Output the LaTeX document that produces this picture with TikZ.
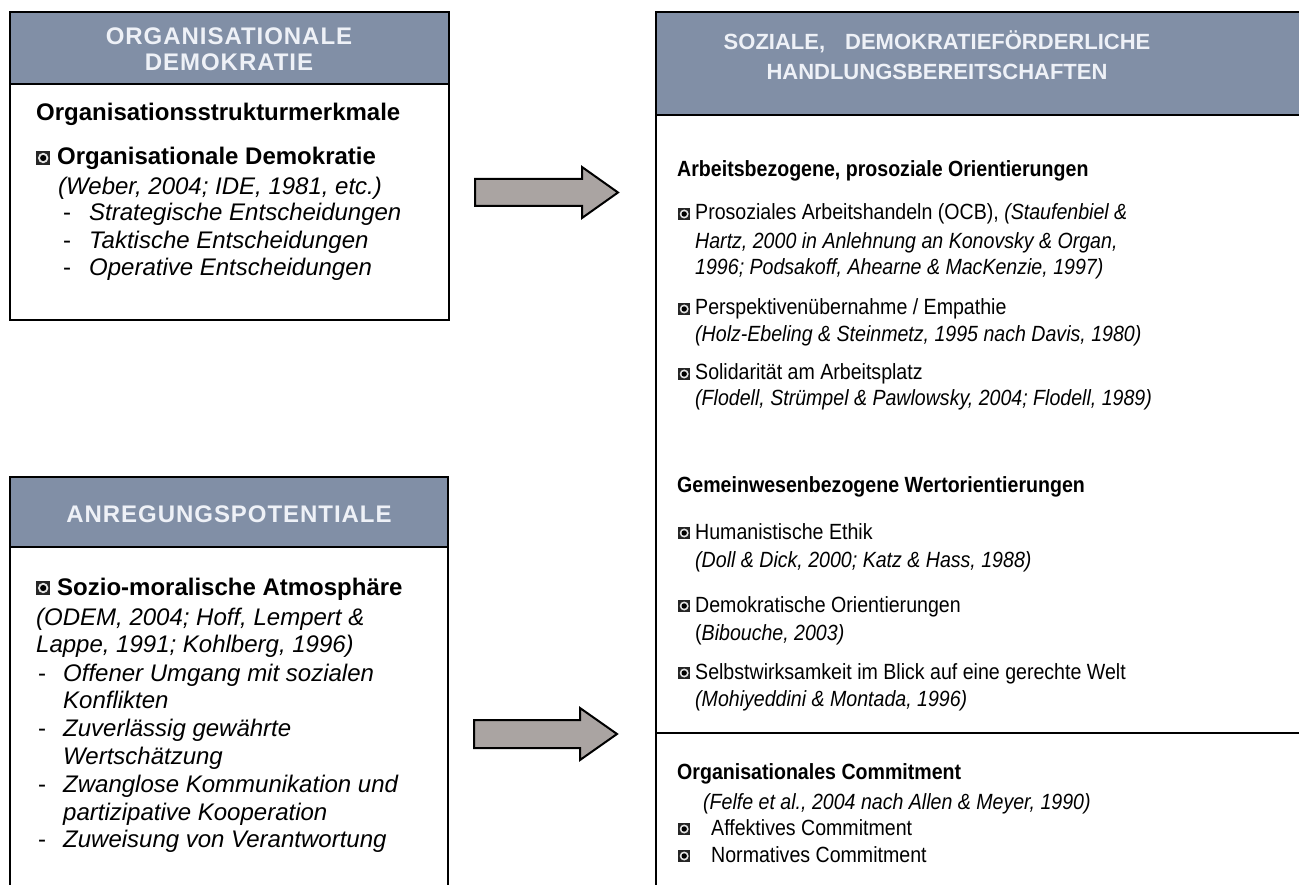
\documentclass[tikz,border=0pt]{standalone}
\usepackage{fontspec}
\setmainfont{Liberation Sans}
\newfontfamily\rfont{Liberation Sans}[FakeStretch=0.89]
\newfontfamily\headfont{Liberation Sans}
\newfontfamily\wideheadfont{Liberation Sans}[LetterSpace=4]
\definecolor{hdrblue}{RGB}{129,143,166}
\definecolor{hdrtext}{RGB}{238,241,247}
\definecolor{arrowgray}{RGB}{170,164,162}
\newsavebox\bulbox
\newsavebox\bulboxl
\newcommand\bul{\usebox\bulbox}
\newcommand\bull{\usebox\bulboxl}
\begin{document}
\sbox\bulbox{\begin{pgfpicture}
  \pgfsetfillcolor{black!85}\pgfpathrectangle{\pgfpoint{0pt}{0pt}}{\pgfpoint{12pt}{12pt}}\pgfusepath{fill}
  \pgfsetfillcolor{gray!20}\pgfpathcircle{\pgfpoint{6pt}{6pt}}{4.5pt}\pgfusepath{fill}
  \pgfsetfillcolor{black}\pgfpathcircle{\pgfpoint{6pt}{6pt}}{2.7pt}\pgfusepath{fill}
\end{pgfpicture}}
\sbox\bulboxl{\begin{pgfpicture}
  \pgfsetfillcolor{black!85}\pgfpathrectangle{\pgfpoint{0pt}{0pt}}{\pgfpoint{14pt}{14pt}}\pgfusepath{fill}
  \pgfsetfillcolor{gray!20}\pgfpathcircle{\pgfpoint{7pt}{7pt}}{5.2pt}\pgfusepath{fill}
  \pgfsetfillcolor{black}\pgfpathcircle{\pgfpoint{7pt}{7pt}}{3.1pt}\pgfusepath{fill}
\end{pgfpicture}}
\begin{tikzpicture}
        [x=1pt, y=-1pt,
        box/.style={draw=black, line width=2pt},
        header/.style={draw=black, line width=2pt, fill=hdrblue},
        headtext/.style={align=center, text=hdrtext, font=\wideheadfont\bfseries\fontsize{24}{26}\selectfont},
        rheadtext/.style={align=center, text=hdrtext, font=\headfont\bfseries\fontsize{22}{30}\selectfont},
        ltxt/.style={anchor=base west, inner sep=0pt, font=\fontsize{24}{28}\selectfont},
        rtxt/.style={anchor=base west, inner sep=0pt, font=\rfont\fontsize{22}{28}\selectfont},
        bigarrow/.style={draw=black, line width=2pt, fill=arrowgray, line join=miter}]

        \useasboundingbox (0,0) rectangle (1299,885);
        \clip (0,0) rectangle (1299,885);

        % boxes
        \draw[header] (10,12) rectangle (449,84);
        \draw[box] (10,84) rectangle (449,320);
        \draw[header] (10,477) rectangle (448,547);
        \draw[box] (10,547) rectangle (448,910);
        \draw[header] (656,12) rectangle (1320,115);
        \draw[box] (656,115) rectangle (1320,910);
        \draw[box] (656,733) -- (1320,733);

        % headers
        \node[headtext] (hdemo) at (229,49) {ORGANISATIONALE\\DEMOKRATIE};
        \node[headtext] (hanreg) at (229,514) {ANREGUNGSPOTENTIALE};
        \node[rheadtext] (hsozial) at (937,55) {SOZIALE,\hspace{20pt}DEMOKRATIEFÖRDERLICHE\\HANDLUNGSBEREITSCHAFTEN};

        % organisationale demokratie
        \node[ltxt] (struk) at (36,121) {\textbf{Organisationsstrukturmerkmale}};
        \node[ltxt] (orgdem) at (36,165) {\bull\hspace{7pt}\textbf{Organisationale Demokratie}};
        \node[ltxt] (weber) at (58,195) {\textit{(Weber, 2004; IDE, 1981, etc.)}};
        \node[ltxt] (strat) at (63,221) {\makebox[26pt][l]{-}\textit{Strategische Entscheidungen}};
        \node[ltxt] (takt) at (63,249) {\makebox[26pt][l]{-}\textit{Taktische Entscheidungen}};
        \node[ltxt] (oper) at (63,276) {\makebox[26pt][l]{-}\textit{Operative Entscheidungen}};

        % anregungspotentiale
        \node[ltxt] (sozio) at (36,595) {\bull\hspace{7pt}\textbf{Sozio-moralische Atmosphäre}};
        \node[ltxt] (odem) at (36,625) {\textit{(ODEM, 2004; Hoff, Lempert \&}};
        \node[ltxt] (lappe) at (36,652) {\textit{Lappe, 1991; Kohlberg, 1996)}};
        \node[ltxt] (offen) at (38,681) {\makebox[25pt][l]{-}\textit{Offener Umgang mit sozialen}};
        \node[ltxt] (konfl) at (63,708) {\textit{Konflikten}};
        \node[ltxt] (zuver) at (38,736) {\makebox[25pt][l]{-}\textit{Zuverlässig gewährte}};
        \node[ltxt] (wert) at (63,764) {\textit{Wertschätzung}};
        \node[ltxt] (zwang) at (38,792) {\makebox[25pt][l]{-}\textit{Zwanglose Kommunikation und}};
        \node[ltxt] (partiz) at (63,820) {\textit{partizipative Kooperation}};
        \node[ltxt] (zuweis) at (38,847) {\makebox[25pt][l]{-}\textit{Zuweisung von Verantwortung}};

        % handlungsbereitschaften
        \node[rtxt] (arbeit) at (677,177) {\textbf{Arbeitsbezogene, prosoziale Orientierungen}};
        \node[rtxt] (ocb) at (678,220) {\bul\hspace{5pt}Prosoziales Arbeitshandeln (OCB), \textit{(Staufenbiel \&}};
        \node[rtxt] (hartz) at (695,249) {\textit{Hartz, 2000 in Anlehnung an Konovsky \& Organ,}};
        \node[rtxt] (podsa) at (695,275) {\textit{1996; Podsakoff, Ahearne \& MacKenzie, 1997)}};
        \node[rtxt] (persp) at (678,315) {\bul\hspace{5pt}Perspektivenübernahme / Empathie};
        \node[rtxt] (holz) at (695,342) {\textit{(Holz-Ebeling \& Steinmetz, 1995 nach Davis, 1980)}};
        \node[rtxt] (solid) at (678,380) {\bul\hspace{5pt}Solidarität am Arbeitsplatz};
        \node[rtxt] (flod) at (695,405) {\textit{(Flodell, Strümpel \& Pawlowsky, 2004; Flodell, 1989)}};
        \node[rtxt] (gemein) at (677,492) {\textbf{Gemeinwesenbezogene Wertorientierungen}};
        \node[rtxt] (human) at (678,539) {\bul\hspace{5pt}Humanistische Ethik};
        \node[rtxt] (doll) at (695,567) {\textit{(Doll \& Dick, 2000; Katz \& Hass, 1988)}};
        \node[rtxt] (demor) at (678,612) {\bul\hspace{5pt}Demokratische Orientierungen};
        \node[rtxt] (bibou) at (695,640) {(\textit{Bibouche, 2003)}};
        \node[rtxt] (selbst) at (678,679) {\bul\hspace{5pt}Selbstwirksamkeit im Blick auf eine gerechte Welt};
        \node[rtxt] (mohi) at (695,706) {\textit{(Mohiyeddini \& Montada, 1996)}};
        \node[rtxt] (commit) at (677,779) {\textbf{Organisationales Commitment}};
        \node[rtxt] (felfe) at (703,809) {\textit{(Felfe et al., 2004 nach Allen \& Meyer, 1990)}};
        \node[rtxt] (affekt) at (678,835) {\makebox[33pt][l]{\bul}Affektives Commitment};
        \node[rtxt] (normat) at (678,862) {\makebox[33pt][l]{\bul}Normatives Commitment};

        % arrows
        \draw[bigarrow] (475,179) -- (582,179) -- (582,167) -- (618,192.5)
          -- (582,218) -- (582,206) -- (475,206) -- cycle;
        \draw[bigarrow] (474,720) -- (580,720) -- (580,708) -- (617,734)
          -- (580,760) -- (580,748) -- (474,748) -- cycle;

        \end{tikzpicture}
\end{document}
